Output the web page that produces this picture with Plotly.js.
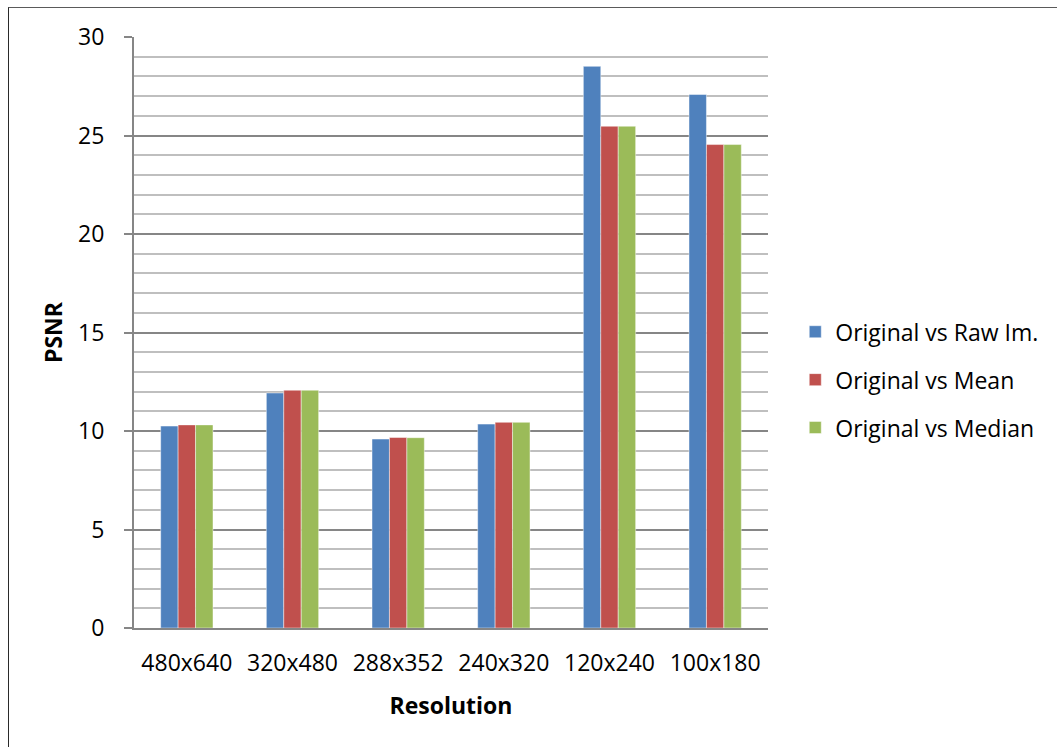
<!DOCTYPE html>
<html>
<head>
<meta charset="utf-8">
<script src="https://cdn.plot.ly/plotly-3.0.1.min.js"></script>
<style>
  html, body { margin: 0; padding: 0; background: #ffffff; }
  #wrap { position: relative; width: 1057px; height: 747px; overflow: hidden; }
  #chart { width: 1057px; height: 747px; }
  /* chart frame: top and left edges */
  #frame { position: absolute; left: 8px; top: 7px; width: 1100px; height: 800px;
           border-top: 1px solid #5a5a5a; border-left: 1px solid #2a2a2a; pointer-events: none; }
</style>
</head>
<body>
<div id="wrap">
  <div id="chart"></div>
  <div id="frame"></div>
</div>
<script>
// Resolutions tested
const resolutions = ['480x640', '320x480', '288x352', '240x320', '120x240', '100x180'];

// PSNR per resolution for each comparison
const rawImPSNR    = [10.25, 11.93, 9.59, 10.35, 28.51, 27.08];
const meanPSNR     = [10.31, 12.07, 9.67, 10.44, 25.47, 24.54];
const medianPSNR   = [10.31, 12.07, 9.66, 10.44, 25.47, 24.54];

const seriesNames  = ['Original vs Raw Im.', 'Original vs Mean', 'Original vs Median'];
const seriesColors = ['#4F81BD', '#C0504D', '#9BBB59'];
const seriesValues = [rawImPSNR, meanPSNR, medianPSNR];

const font = 'Open Sans, Noto Sans, sans-serif';
const fs = 23;

const traces = seriesValues.map((vals, i) => ({
  type: 'bar',
  name: seriesNames[i],
  x: resolutions,
  y: vals,
  legendgroup: 'g' + i,
  marker: { color: seriesColors[i], line: { color: 'rgba(255,255,255,0.45)', width: 1 } },
  hoverinfo: 'x+y+name'
}));

const layout = {
  width: 1057,
  height: 747,
  paper_bgcolor: '#ffffff',
  plot_bgcolor: '#ffffff',
  margin: { l: 134, r: 289, t: 37, b: 119 },
  barmode: 'group',
  bargap: 0.505,
  bargroupgap: 0,
  font: { family: font, size: fs, color: '#000000' },
  showlegend: true,
  legend: {
    x: 1.043, xanchor: 'left',
    y: 0.42, yanchor: 'middle',
    font: { family: font, size: fs, color: '#000000' },
    traceorder: 'grouped',
    tracegroupgap: 15,
    itemwidth: 30,
    bgcolor: 'rgba(0,0,0,0)'
  },
  xaxis: {
    type: 'category',
    showline: true,
    linecolor: '#868686',
    linewidth: 2,
    ticks: '',
    ticklabelstandoff: 13,
    tickfont: { family: font, size: fs, color: '#000000' },
    title: { text: '<b>Resolution</b>', font: { family: font, size: fs, color: '#000000' }, standoff: 21 },
    showgrid: false,
    zeroline: false
  },
  yaxis: {
    range: [0, 30],
    dtick: 5,
    tick0: 0,
    showline: true,
    linecolor: '#868686',
    linewidth: 2,
    ticks: 'outside',
    ticklen: 8,
    tickwidth: 2,
    tickcolor: '#868686',
    ticklabelstandoff: 15,
    tickfont: { family: font, size: fs, color: '#000000' },
    showgrid: true,
    gridcolor: '#868686',
    gridwidth: 2,
    zeroline: false,
    minor: { dtick: 1, showgrid: true, gridcolor: '#BFBFBF', gridwidth: 2, ticks: '' },
    title: { text: '<b>PSNR</b>', font: { family: font, size: fs, color: '#000000' }, standoff: 9 }
  }
};

Plotly.newPlot('chart', traces, layout, { displayModeBar: false, staticPlot: false });
</script>
</body>
</html>
